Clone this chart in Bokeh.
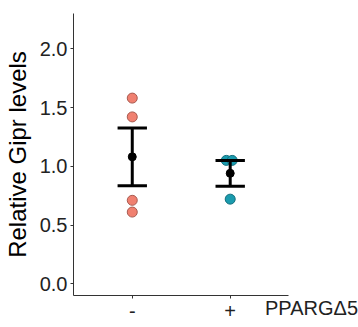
import numpy as np
from bokeh.plotting import figure
from bokeh.models import Range1d, FixedTicker
from bokeh.embed import file_html
from bokeh.resources import INLINE

categories = ["-", "+"]
factor_name = "PPARGΔ5"
group_minus = [1.58, 1.42, 0.71, 0.61]
group_plus = [1.05, 1.05, 0.72]
jitter_minus = [0.0, 0.0, 0.0, 0.0]
jitter_plus = [-0.04, 0.02, 0.0]
fills = ["#F08070", "#1A9BAE"]
lines = ["#A85A50", "#14707E"]
y_ticks = [0.0, 0.5, 1.0, 1.5, 2.0]

p = figure(width=358, height=327, output_backend="svg", toolbar_location=None,
           x_range=Range1d(0.4, 2.83), y_range=Range1d(-0.10, 2.30),
           min_border_left=10, min_border_right=47, min_border_top=13, min_border_bottom=32)
p.grid.visible = False
p.outline_line_color = None
p.background_fill_color = "white"

font = "Liberation Sans"
p.yaxis.ticker = FixedTicker(ticks=y_ticks)
p.yaxis.major_label_overrides = {t: f"{t:.1f}" for t in y_ticks}
p.yaxis.axis_label = "Relative Gipr levels"
p.yaxis.axis_label_text_font = font
p.yaxis.axis_label_text_font_size = "24px"
p.yaxis.axis_label_text_font_style = "normal"
p.yaxis.axis_label_text_color = "black"
p.yaxis.axis_label_standoff = 6
p.xaxis.ticker = FixedTicker(ticks=[1, 2])
p.xaxis.major_label_overrides = {1: categories[0], 2: categories[1]}
p.xaxis.bounds = (0.4, 2.6)
p.xaxis.axis_label = factor_name
p.xaxis.axis_label_text_font = font
p.xaxis.axis_label_text_font_size = "20px"
p.xaxis.axis_label_text_font_style = "normal"
p.xaxis.axis_label_text_color = "#222222"
p.xaxis.axis_label_align = "end"
p.xaxis.axis_label_standoff = -24
for ax in (p.xaxis, p.yaxis):
    ax.major_label_text_font = font
    ax.major_label_text_font_size = "20px"
    ax.major_label_text_color = "#222222"
    ax.axis_line_color = "#333333"
    ax.axis_line_width = 1
    ax.major_tick_line_color = "#333333"
    ax.major_tick_out = 3
    ax.major_tick_in = 0
    ax.minor_tick_line_color = None
p.yaxis.major_label_standoff = 3
p.xaxis.major_label_standoff = 5

groups = [group_minus, group_plus]
jitters = [jitter_minus, jitter_plus]
for i, (vals, jit) in enumerate(zip(groups, jitters)):
    xc = i + 1
    vals = np.array(vals)
    xs = xc + np.array(jit)
    p.scatter(xs, vals, size=10, fill_color=fills[i], line_color=lines[i], line_width=1)
    m = vals.mean()
    se = vals.std(ddof=1) / np.sqrt(len(vals))
    p.segment([xc], [m - se], [xc], [m + se], line_color="black", line_width=3)
    p.segment([xc - 0.15, xc - 0.15], [m - se, m + se], [xc + 0.15, xc + 0.15], [m - se, m + se],
              line_color="black", line_width=3)
    p.scatter([xc], [m], size=8, fill_color="black", line_color="black")

open("out.html", "w").write(file_html(p, INLINE))
